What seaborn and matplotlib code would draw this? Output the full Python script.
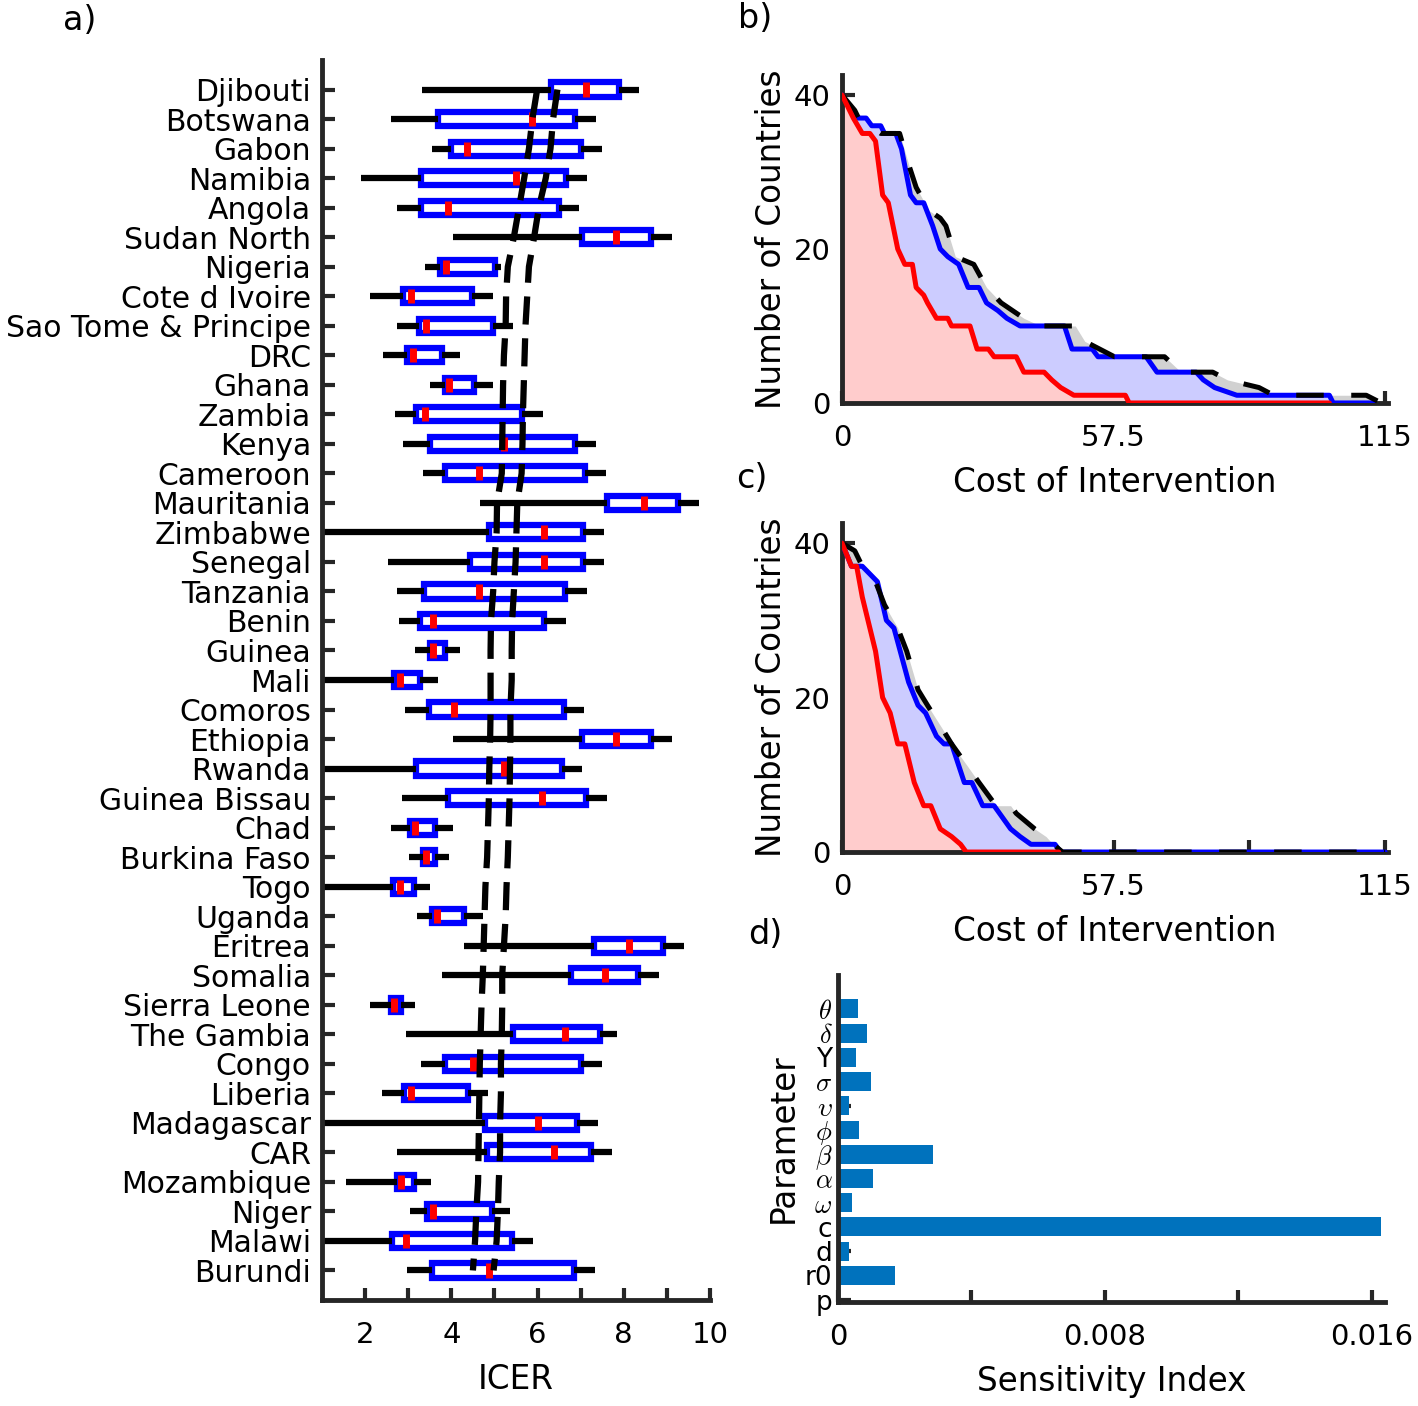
# ICER box summary per country, cost-coverage curves and parameter sensitivity.

import seaborn as sns
import numpy as np
import matplotlib.pyplot as plt
import pandas as pd


# Panel a: per-country ICER summary (top to bottom as drawn)
countries = ["Djibouti", "Botswana", "Gabon", "Namibia", "Angola", "Sudan North", "Nigeria",
             "Cote d Ivoire", "Sao Tome & Principe", "DRC", "Ghana", "Zambia", "Kenya", "Cameroon",
             "Mauritania", "Zimbabwe", "Senegal", "Tanzania", "Benin", "Guinea", "Mali", "Comoros",
             "Ethiopia", "Rwanda", "Guinea Bissau", "Chad", "Burkina Faso", "Togo", "Uganda",
             "Eritrea", "Somalia", "Sierra Leone", "The Gambia", "Congo", "Liberia", "Madagascar",
             "CAR", "Mozambique", "Niger", "Malawi", "Burundi"]
whisker_lo = [3.32, 2.60, 3.55, 1.90, 2.74, 4.04, 3.40, 2.12, 2.74, 2.41, 3.51, 2.70, 2.87, 3.35,
              4.67, 0.80, 2.53, 2.74, 2.79, 3.16, 0.80, 2.93, 4.04, 0.80, 2.85, 2.60, 3.02, 0.80,
              3.20, 4.30, 3.78, 2.12, 2.95, 3.29, 2.40, 0.80, 2.75, 1.56, 3.03, 0.80, 2.97]
box_lo = [6.31, 3.68, 3.99, 3.29, 3.29, 7.03, 3.73, 2.87, 3.24, 2.96, 3.86, 3.19, 3.51, 3.86,
          7.61, 4.87, 4.44, 3.36, 3.28, 3.50, 2.66, 3.48, 7.03, 3.19, 3.92, 3.03, 3.34, 2.65,
          3.54, 7.31, 6.77, 2.61, 5.44, 3.86, 2.91, 4.78, 4.83, 2.74, 3.44, 2.62, 3.55]
medians = [7.12, 5.88, 4.37, 5.49, 3.93, 7.81, 3.88, 3.06, 3.42, 3.11, 3.95, 3.40, 5.21, 4.65,
           8.47, 6.16, 6.14, 4.65, 3.58, 3.58, 2.81, 4.07, 7.81, 5.21, 6.11, 3.16, 3.42, 2.80,
           3.67, 8.12, 7.57, 2.68, 6.64, 4.50, 3.07, 6.02, 6.37, 2.84, 3.57, 2.95, 4.87]
box_hi = [7.89, 6.87, 7.01, 6.66, 6.49, 8.62, 5.01, 4.49, 4.97, 3.78, 4.52, 5.64, 6.87, 7.11,
          9.26, 7.05, 7.05, 6.64, 6.15, 3.86, 3.27, 6.61, 8.63, 6.56, 7.12, 3.61, 3.61, 3.13,
          4.30, 8.90, 8.34, 2.83, 7.45, 7.01, 4.38, 6.92, 7.23, 3.14, 4.94, 5.41, 6.84]
whisker_hi = [8.35, 7.35, 7.50, 7.15, 6.95, 9.11, 5.15, 4.97, 5.43, 4.21, 4.97, 6.12, 7.35, 7.58,
              9.74, 7.53, 7.53, 7.14, 6.65, 4.21, 3.70, 7.08, 9.11, 7.04, 7.60, 4.04, 3.94, 3.51,
              4.74, 9.39, 8.82, 3.16, 7.85, 7.49, 4.85, 7.40, 7.72, 3.53, 5.37, 5.89, 7.33]
dash_left = [5.99, 5.88, 5.80, 5.69, 5.57, 5.45, 5.31, 5.27, 5.26, 5.22, 5.20, 5.19, 5.18, 5.17,
             5.06, 5.05, 5.00, 4.97, 4.92, 4.91, 4.91, 4.91, 4.90, 4.88, 4.87, 4.85, 4.83, 4.79,
             4.77, 4.75, 4.73, 4.70, 4.68, 4.66, 4.65, 4.64, 4.63, 4.62, 4.58, 4.55, 4.50]
dash_right = [6.46, 6.36, 6.30, 6.19, 6.03, 5.92, 5.80, 5.76, 5.72, 5.70, 5.68, 5.66, 5.65, 5.63,
              5.53, 5.51, 5.49, 5.45, 5.41, 5.40, 5.40, 5.37, 5.37, 5.36, 5.35, 5.33, 5.31, 5.28,
              5.26, 5.22, 5.18, 5.18, 5.17, 5.15, 5.15, 5.13, 5.13, 5.10, 5.08, 5.05, 4.98]

# Panel b: number of countries vs cost of intervention
b_red_x = [0, 2.4, 4.3, 5.9, 7.1, 8.6, 9.8, 11.8, 13.3, 14.9, 15.7, 17.3, 18.1, 20.0, 22.4, 23.2,
           27.1, 28.6, 31.0, 32.2, 36.9, 38.5, 42.8, 44.4, 46.3, 49.1, 60.0, 60.8, 103.2]
b_red_y = [40, 37, 35, 35, 34, 27, 26, 20, 18, 18, 15, 14, 13, 11, 11, 10,
           10, 7, 7, 6, 6, 4, 4, 3, 2, 1, 1, 0, 0]
b_blue_x = [0, 2.0, 3.1, 5.1, 6.3, 8.2, 9.0, 11.4, 12.6, 14.5, 15.7, 17.3, 19.2, 20.8, 22.4, 24.7,
            26.7, 29.0, 30.6, 33.0, 34.9, 37.7, 47.1, 48.7, 53.0, 54.2, 64.4, 66.7, 75.0, 76.5,
            78.9, 83.6, 103.2, 104.0, 112.6]
b_blue_y = [40, 38, 37, 37, 36, 36, 35, 35, 33, 27, 26, 26, 23, 20, 19, 18,
            15, 15, 13, 12, 11, 10, 10, 7, 7, 6, 6, 4, 4, 3,
            2, 1, 1, 0, 0]
b_black_x = [0, 2.7, 3.5, 8.2, 12.2, 14.1, 15.7, 18.4, 20.8, 22.0, 24.0, 27.9, 30.6, 33.7, 38.5,
             42.0, 49.4, 51.4, 57.7, 68.3, 71.8, 78.5, 81.6, 88.3, 91.4, 111.0, 114.2, 115.0]
b_black_y = [40, 38, 37, 35, 35, 31, 28, 25, 24, 23, 19, 18, 15, 13, 11,
             10, 10, 8, 6, 6, 4, 4, 3, 2, 1, 1, 0, 0]

# Panel c
c_red_x = [0, 2.0, 3.1, 4.3, 5.5, 7.1, 8.6, 10.2, 11.8, 13.3, 15.3, 17.3, 18.8, 20.8, 23.2, 25.1,
           26.3, 45.9]
c_red_y = [40, 37, 37, 33, 30, 26, 20, 18, 14, 14, 9, 6, 6, 3, 2, 1, 0, 0]
c_blue_x = [0, 2.0, 4.3, 5.9, 7.5, 9.4, 11.0, 14.1, 16.1, 17.7, 20.0, 21.6, 23.2, 25.9, 27.5, 29.8,
            32.2, 35.7, 37.7, 40.0, 45.1, 46.3, 115.0]
c_blue_y = [40, 37, 37, 36, 35, 30, 29, 22, 19, 18, 15, 14, 14, 9, 9, 6,
            6, 3, 2, 1, 1, 0, 0]
c_black_x = [0, 2.7, 4.3, 7.1, 9.0, 11.8, 13.7, 16.1, 18.1, 21.2, 23.2, 26.7, 29.0, 32.6, 35.7,
             36.9, 40.8, 43.2, 44.7, 46.7, 115.0]
c_black_y = [40, 39, 37, 35, 32, 29, 26, 21, 19, 16, 14, 11, 9, 6, 6, 5, 3, 2, 1, 0, 0]

# Panel d: sensitivity index per parameter
params = [r"$\theta$", r"$\delta$", "Y", r"$\sigma$", r"$\upsilon$", r"$\phi$", r"$\beta$",
          r"$\alpha$", r"$\omega$", "c", "d", "r0", "p"]
sensitivity = [0.0006, 0.00088, 0.00053, 0.0010, 0.00034, 0.00063, 0.00285, 0.00104, 0.00041,
               0.01628, 0.00034, 0.0017, 0.0]

sns.set_style("ticks")
plt.rcParams["font.family"] = ["DejaVu Sans"]
plt.rcParams["mathtext.fontset"] = "cm"
plt.rcParams["font.size"] = 21
plt.rcParams["text.color"] = "black"
plt.rcParams["axes.labelcolor"] = "black"
plt.rcParams["xtick.color"] = "black"
plt.rcParams["ytick.color"] = "black"

SPINE = "#262626"


def style_axes(ax):
    sns.despine(ax=ax)
    for side in ["left", "bottom"]:
        ax.spines[side].set_linewidth(3.5)
        ax.spines[side].set_color(SPINE)
    ax.tick_params(direction="in", length=9, width=3, labelsize=21, color=SPINE,
                   labelcolor="black")
    ax.tick_params(axis="y", pad=8)
    ax.tick_params(axis="x", pad=15)
    ax.xaxis.labelpad = 10


fig = plt.figure(figsize=(14.18, 14.06), dpi=100)
ax_a = fig.add_axes([0.2271, 0.0754, 0.2736, 0.8819])
ax_b = fig.add_axes([0.5938, 0.7134, 0.3850, 0.2333])
ax_c = fig.add_axes([0.5938, 0.3940, 0.3850, 0.2340])
ax_d = fig.add_axes([0.5910, 0.0740, 0.3858, 0.2326])

# ---- a) boxes ----
pos = np.arange(1, len(countries) + 1)
stats = []
for i in range(len(countries)):
    stats.append(dict(med=medians[i], q1=box_lo[i], q3=box_hi[i],
                      whislo=whisker_lo[i], whishi=whisker_hi[i], fliers=[]))
ax_a.bxp(stats, positions=pos, widths=0.48, orientation="horizontal",
         showcaps=False, showfliers=False, patch_artist=True, manage_ticks=False,
         boxprops=dict(facecolor="white", edgecolor="blue", linewidth=4.5),
         whiskerprops=dict(color="black", linewidth=4.5, solid_capstyle="butt"),
         medianprops=dict(color="red", linewidth=5, solid_capstyle="butt"))

for xs in [dash_left, dash_right]:
    sns.lineplot(x=xs, y=pos, sort=False, estimator=None, color="black", lw=4.5,
                 linestyle=(0, (4.5, 2.2)), ax=ax_a, zorder=5)

ax_a.set_xlim(1, 10)
ax_a.set_ylim(42, 0)
ax_a.set_yticks(pos)
ax_a.set_yticklabels(countries)
ax_a.set_xticks(np.arange(2, 11))
ax_a.set_xticklabels(["2", "", "4", "", "6", "", "8", "", "10"])
ax_a.set_xlabel("ICER", fontsize=23.5)
ax_a.set_ylabel("")
style_axes(ax_a)
ax_a.tick_params(axis="y", labelsize=21.5)


# ---- b), c) coverage curves ----
def draw_curves(ax, rx, ry, bx, by, kx, ky):
    ax.fill_between(kx, ky, color=(0.82, 0.82, 0.82), lw=0, zorder=1)
    ax.fill_between(bx, by, color=(0.8, 0.8, 1.0), lw=0, zorder=1.1)
    ax.fill_between(rx, ry, color=(1.0, 0.8, 0.8), lw=0, zorder=1.2)
    sns.lineplot(x=bx, y=by, sort=False, estimator=None, color="blue", lw=3.6, ax=ax, zorder=3)
    sns.lineplot(x=kx, y=ky, sort=False, estimator=None, color="black", lw=3.6,
                 linestyle=(0, (5.5, 5.5)), ax=ax, zorder=4)
    sns.lineplot(x=rx, y=ry, sort=False, estimator=None, color="red", lw=3.6, ax=ax, zorder=5)
    ax.set_xlim(0, 115.6)
    ax.set_ylim(0, 42.6)
    ax.set_xticks([0, 28.75, 57.5, 86.25, 115])
    ax.set_xticklabels(["0", "", "57.5", "", "115"])
    ax.set_yticks([0, 10, 20, 30, 40])
    ax.set_yticklabels(["0", "", "20", "", "40"])
    ax.set_xlabel("Cost of Intervention", fontsize=23.5)
    ax.set_ylabel("Number of Countries", fontsize=23.5)
    style_axes(ax)


draw_curves(ax_b, b_red_x, b_red_y, b_blue_x, b_blue_y, b_black_x, b_black_y)
draw_curves(ax_c, c_red_x, c_red_y, c_blue_x, c_blue_y, c_black_x, c_black_y)

# ---- d) sensitivity bars ----
df_d = pd.DataFrame({"Parameter": params, "Sensitivity Index": sensitivity})
sns.barplot(data=df_d, x="Sensitivity Index", y="Parameter", orient="h", color="#0072BD",
            saturation=1, width=0.78, edgecolor="none", ax=ax_d)
ax_d.set_xlim(0, 0.0164)
ax_d.set_ylim(12.1, -1.4)
ax_d.set_xticks([0, 0.004, 0.008, 0.012, 0.016])
ax_d.set_xticklabels(["0", "", "0.008", "", "0.016"])
ax_d.set_xlabel("Sensitivity Index", fontsize=23.5)
ax_d.set_ylabel("Parameter", fontsize=23.5)
style_axes(ax_d)
ax_d.tick_params(axis="y", labelsize=19, pad=4)

# panel letters
fig.text(80 / 1418, 1 - 20 / 1406, "a)", fontsize=24, ha="center", va="center")
fig.text(755 / 1418, 1 - 18 / 1406, "b)", fontsize=24, ha="center", va="center")
fig.text(752 / 1418, 1 - 478 / 1406, "c)", fontsize=24, ha="center", va="center")
fig.text(765 / 1418, 1 - 935 / 1406, "d)", fontsize=24, ha="center", va="center")

plt.savefig("out.png", dpi=100)
plt.close()
